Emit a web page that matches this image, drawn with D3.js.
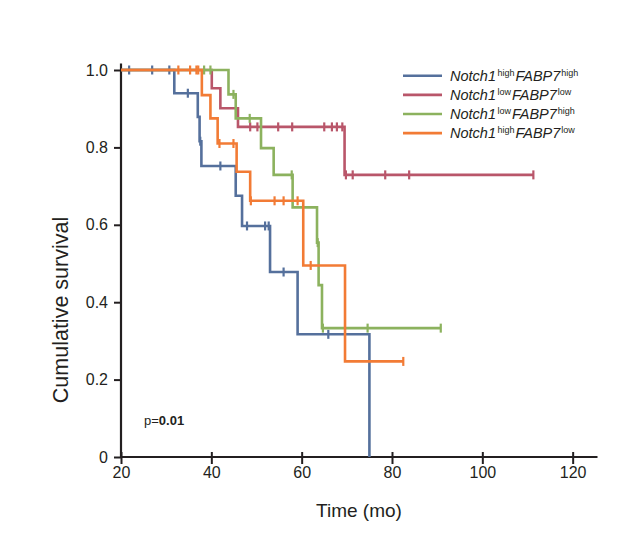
<!DOCTYPE html>
<html>
<head>
<meta charset="utf-8">
<script src="https://cdn.jsdelivr.net/npm/d3@7"></script>
<style>
  html, body { margin: 0; padding: 0; background: #fff; }
  svg { display: block; }
  text { font-family: "Liberation Sans", Arial, sans-serif; fill: #231f20; }
</style>
</head>
<body>
<svg id="chart" width="623" height="541"></svg>
<script>
// ---- data ----
const seriesNames = ["hh", "ll", "lh", "hl"];
const legendGene1 = ["Notch1", "Notch1", "Notch1", "Notch1"];
const legendSup1  = ["high", "low", "low", "high"];
const legendGene2 = ["FABP7", "FABP7", "FABP7", "FABP7"];
const legendSup2  = ["high", "low", "high", "low"];
const seriesColors = ["#55709c", "#b9566a", "#8cb25e", "#f27b35"];

// event times (mo) and survival after each event
const hhEventTimes = [31.8, 37.0, 37.4, 37.8, 45.4, 46.8, 53.0, 59.1, 75.0];
const hhSurvival   = [0.940, 0.879, 0.816, 0.752, 0.675, 0.597, 0.478, 0.317, 0.0];
const hhCensored   = [21.8, 26.9, 30.7, 34.8, 37.55, 42.0, 47.9, 51.9, 52.7, 56.0, 65.9];
const hhEnd = 75.0;

const llEventTimes = [40.1, 42.0, 45.9, 69.5];
const llSurvival   = [0.953, 0.901, 0.853, 0.729];
const llCensored   = [48.6, 50.2, 54.8, 57.9, 65.0, 66.7, 67.8, 69.0, 69.8, 71.3, 78.5, 83.8, 111.3];
const llEnd = 111.3;

const lhEventTimes = [43.8, 45.4, 51.0, 53.8, 58.0, 63.4, 63.75, 64.5];
const lhSurvival   = [0.937, 0.875, 0.798, 0.729, 0.645, 0.554, 0.444, 0.333];
const lhCensored   = [38.4, 39.8, 44.9, 48.5, 57.8, 63.55, 64.7, 74.6, 90.8];
const lhEnd = 90.8;

const hlEventTimes = [37.9, 39.8, 41.4, 45.6, 48.6, 60.35, 69.6];
const hlSurvival   = [0.935, 0.875, 0.810, 0.737, 0.662, 0.495, 0.247];
const hlCensored   = [32.7, 35.3, 36.7, 37.1, 41.8, 44.9, 48.75, 54.0, 56.0, 59.1, 62.0, 82.5];
const hlEnd = 82.5;

const xTicks = [20, 40, 60, 80, 100, 120];
const yTicks = [0, 0.2, 0.4, 0.6, 0.8, 1.0];
const yTickLabels = ["0", "0.2", "0.4", "0.6", "0.8", "1.0"];
const xTitle = "Time (mo)";
const yTitle = "Cumulative survival";
const pLabel = "p=";
const pValue = "0.01";

// ---- drawing ----
const svg = d3.select("#chart");
const x = d3.scaleLinear().domain([20, 125.5]).range([121, 597.5]);
const y = d3.scaleLinear().domain([0, 1]).range([457, 70]);

const series = [
  {times: hhEventTimes, surv: hhSurvival, cens: hhCensored, end: hhEnd},
  {times: llEventTimes, surv: llSurvival, cens: llCensored, end: llEnd},
  {times: lhEventTimes, surv: lhSurvival, cens: lhCensored, end: lhEnd},
  {times: hlEventTimes, surv: hlSurvival, cens: hlCensored, end: hlEnd}
];

function survAt(s, t) {
  let v = 1;
  for (let i = 0; i < s.times.length; i++) if (s.times[i] <= t) v = s.surv[i];
  return v;
}

const line = d3.line().x(d => x(d[0])).y(d => y(d[1])).curve(d3.curveStepAfter);

// axes
const xAxis = d3.axisBottom(x).tickValues(xTicks).tickFormat(d3.format("d"))
  .tickSizeInner(7).tickSizeOuter(0).tickPadding(3);
const gx = svg.append("g").attr("transform", `translate(0,${y(0)})`).call(xAxis);
gx.select(".domain").remove();
gx.selectAll(".tick line").attr("y1", -5).attr("stroke", "#231f20").attr("stroke-width", 2);
gx.selectAll(".tick text").attr("font-size", 16).attr("font-family", "Liberation Sans, Arial, sans-serif").attr("fill", "#231f20");
gx.append("line").attr("x1", x(20) - 1).attr("x2", x(125.5)).attr("y1", 0).attr("y2", 0)
  .attr("stroke", "#231f20").attr("stroke-width", 2.2);

const yAxis = d3.axisLeft(y).tickValues(yTicks).tickFormat((d, i) => yTickLabels[i])
  .tickSizeInner(7).tickSizeOuter(0).tickPadding(6);
const gy = svg.append("g").attr("transform", `translate(${x(20)},0)`).call(yAxis);
gy.select(".domain").remove();
gy.selectAll(".tick line").attr("stroke", "#231f20").attr("stroke-width", 2);
gy.selectAll(".tick text").attr("font-size", 16).attr("font-family", "Liberation Sans, Arial, sans-serif").attr("fill", "#231f20");
gy.append("line").attr("x1", 0).attr("x2", 0).attr("y1", y(0) + 1).attr("y2", y(1.017))
  .attr("stroke", "#231f20").attr("stroke-width", 2.2);

// curves (drawn blue, red, green, orange)
const curves = svg.append("g");
series.forEach((s, i) => {
  const pts = [[20, 1]];
  s.times.forEach((t, k) => pts.push([t, s.surv[k]]));
  pts.push([s.end, s.surv[s.surv.length - 1]]);
  curves.append("path").attr("d", line(pts)).attr("fill", "none")
    .attr("stroke", seriesColors[i]).attr("stroke-width", 2.6);
  curves.selectAll(null).data(s.cens).enter().append("line")
    .attr("x1", d => x(d)).attr("x2", d => x(d))
    .attr("y1", d => y(survAt(s, d)) - 4.5).attr("y2", d => y(survAt(s, d)) + 4.5)
    .attr("stroke", seriesColors[i]).attr("stroke-width", 2.2);
});

// axis titles
svg.append("text").attr("x", 359).attr("y", 517).attr("text-anchor", "middle")
  .attr("font-size", 19).text(xTitle);
svg.append("text").attr("transform", "translate(68,310) rotate(-90)").attr("text-anchor", "middle")
  .attr("font-size", 21.5).text(yTitle);

// p value
const pt = svg.append("text").attr("x", 144).attr("y", 425).attr("font-size", 13);
pt.append("tspan").text(pLabel);
pt.append("tspan").attr("font-weight", "bold").text(pValue);

// legend
const lg = svg.append("g");
seriesNames.forEach((n, i) => {
  const ly = 75.8 + i * 19.1;
  lg.append("line").attr("x1", 403).attr("x2", 442).attr("y1", ly).attr("y2", ly)
    .attr("stroke", seriesColors[i]).attr("stroke-width", 2.6);
  const t = lg.append("text").attr("x", 450).attr("y", ly + 4.8)
    .attr("font-size", 14.5).attr("font-style", "italic");
  t.append("tspan").text(legendGene1[i]);
  t.append("tspan").attr("font-size", 9).attr("font-style", "normal").attr("dx", 1.5).attr("dy", -5).text(legendSup1[i]);
  t.append("tspan").attr("dx", 1).attr("dy", 5).text(legendGene2[i]);
  t.append("tspan").attr("font-size", 9).attr("font-style", "normal").attr("dx", 1).attr("dy", -5).text(legendSup2[i]);
});
</script>
</body>
</html>
